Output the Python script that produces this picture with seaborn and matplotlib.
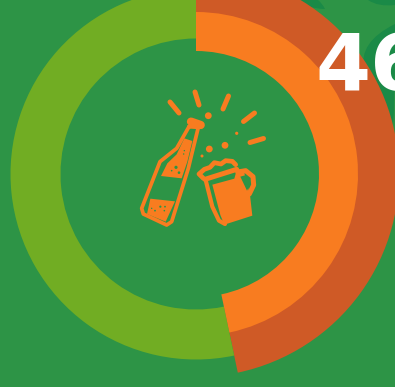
import matplotlib
matplotlib.use("Agg")
import matplotlib.pyplot as plt
import seaborn as sns
from matplotlib.patches import Circle, PathPatch, Polygon
from matplotlib.path import Path

# Share of the ring taken by the highlighted value
headline = "46"
shares = [46.7, 53.3]

BG = "#2D9446"
DARK = "#1A8A47"
LIME = "#71AD23"
ORANGE = "#F87C20"
RUST = "#CF5A26"
WHITE = "#FFFFFF"

sns.set_theme(style="white", rc={"axes.facecolor": BG, "figure.facecolor": BG})
plt.rcParams["font.family"] = ["DejaVu Sans"]

W, H = 395, 387
fig = plt.figure(figsize=(W / 100, H / 100), dpi=100)

# Backdrop foliage, rings and artwork share one pixel-like coordinate frame
deco = fig.add_axes([0, 0, 1, 1], zorder=0)
deco.set_xlim(0, W)
deco.set_ylim(H, 0)
deco.axis("off")


def curve(ax, pts, **kw):
    """Closed smooth blob through quadratic control points."""
    verts = [pts[0]]
    codes = [Path.MOVETO]
    for i in range(1, len(pts) - 1, 2):
        verts += [pts[i], pts[i + 1]]
        codes += [Path.CURVE3, Path.CURVE3]
    ax.add_patch(PathPatch(Path(verts, codes), **kw))


for blob in [
    [(300, 0), (308, 9), (325, 9), (322, 3), (318, 0)],
    [(368, 0), (378, 7), (395, 5), (395, 2), (395, 0)],
    [(395, 24), (358, 42), (364, 70), (372, 85), (392, 128), (395, 128), (395, 24)],
]:
    curve(deco, blob, fc=DARK, ec="none")

# Three concentric rings, each starting at twelve o'clock
rings = fig.add_axes([0, 0, 1, 1], zorder=1)
rings.patch.set_alpha(0)
cx, cy = 196, H - 174
for radius, width, colors in [
    (203, 42, [RUST, "none"]),
    (185.5, 50, ["none", LIME]),
    (162, 39, [ORANGE, "none"]),
]:
    rings.pie(shares, startangle=90, counterclock=False, center=(cx, cy), radius=radius,
              colors=colors, wedgeprops={"width": width, "linewidth": 0})
rings.set_aspect("equal")
rings.set_xlim(0, W)
rings.set_ylim(0, H)
rings.axis("off")

# Bottle and mug icon, on top of the rings
art = fig.add_axes([0, 0, 1, 1], zorder=2)
art.patch.set_alpha(0)
art.set_xlim(0, W)
art.set_ylim(H, 0)
art.axis("off")
art.text(315, 90, headline, color=WHITE, fontsize=57, fontweight="bold", ha="left", va="baseline")

stroke = dict(color=ORANGE, solid_capstyle="round", solid_joinstyle="round")
for (x0, y0), (x1, y1) in [
    ((170, 102), (179, 113)), ((195, 92), (199, 105)), ((228.5, 96), (223, 109)),
    ((254.5, 113), (243.5, 121.5)), ((263.5, 138.5), (250, 142.5)),
]:
    art.plot([x0, x1], [y0, y1], lw=3.6, **stroke)

for x, y, r in [(208.3, 115.7, 3.4), (236.7, 133.3, 1.6), (209.3, 149, 3.4),
                (225, 145.3, 3.4), (202, 156, 1.5)]:
    art.add_patch(Circle((x, y), r, fc=ORANGE, ec="none"))


def bottle(p):
    return (135 + p[0] / 3, 110 + p[1] / 3)


def mug(p):
    return (195 + p[0] / 3, 150 + p[1] / 3)


outline = [(162, 50), (125, 115), (100, 135), (75, 155), (20, 295), (25, 312), (95, 345),
           (110, 335), (160, 175), (172, 125), (190, 52), (162, 50)]
art.plot(*zip(*map(bottle, outline)), lw=2.7, **stroke)
art.plot(*zip(*map(bottle, [(168, 35), (197, 45)])), lw=6, **stroke)
art.add_patch(Polygon(list(map(bottle, [(148, 85), (172, 93), (157, 155), (140, 205), (78, 198),
                                        (97, 160), (125, 133)])), fc=ORANGE, ec="none"))
art.add_patch(Polygon(list(map(bottle, [(46, 266), (120, 274), (92, 335), (36, 312)])),
                      fc=ORANGE, ec="none"))
for p, r in [((123, 172), 1.6), ((132, 188), 1.3), ((110, 182), 0.8), ((148, 122), 0.7), ((146, 132), 0.7),
             ((76, 290), 1.1), ((90, 290), 0.9), ((60, 302), 0.9), ((50, 295), 0.7), ((88, 302), 0.8)]:
    art.add_patch(Circle(bottle(p), r, fc=BG, ec="none"))

# Mug: foam crown, rim, handle and filled body
foam = [(25, 85), (12, 72), (28, 58), (45, 52), (58, 38), (78, 42), (92, 32), (112, 34), (122, 44)]
art.plot(*zip(*map(mug, foam)), lw=3.4, **stroke)
art.plot(*zip(*map(mug, [(30, 88), (125, 58)])), lw=3.6, **stroke)
art.plot(*zip(*map(mug, [(32, 90), (52, 170), (72, 212), (90, 222)])), lw=3, **stroke)
art.add_patch(Polygon(list(map(mug, [(52, 104), (118, 86), (125, 60), (145, 58), (165, 135),
                                     (172, 197), (88, 224), (76, 195)])), fc=ORANGE, ec="none"))
art.plot(*zip(*map(mug, [(128, 66), (152, 62), (174, 80), (176, 105), (163, 132)])), lw=3.6, **stroke)
art.add_patch(Polygon(list(map(mug, [(136, 80), (150, 76), (163, 92), (162, 110), (156, 122)])),
                      fc=BG, ec="none"))

fig.savefig("out.png", dpi=100, facecolor=BG)
